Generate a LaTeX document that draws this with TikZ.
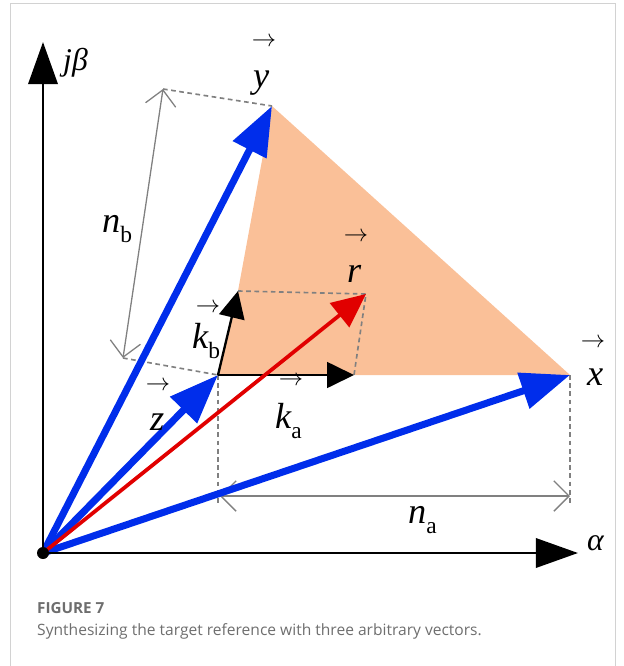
\documentclass[tikz,border=0pt]{standalone}
\usepackage{fontspec}
\setmainfont{Liberation Serif}
\newfontfamily\capfont{Open Sans}
\usetikzlibrary{arrows.meta}
\definecolor{vecblue}{RGB}{0,45,235}
\definecolor{vecred}{RGB}{225,0,0}
\definecolor{areaorange}{RGB}{250,192,152}
\definecolor{capgray}{RGB}{110,110,110}
\newcommand{\sbs}[1]{\raisebox{-9pt}{\fontsize{20}{20}\selectfont\upshape #1}}

\begin{document}
\begin{tikzpicture}[x=0.03cm, y=-0.03cm,
    axisline/.style={line width=2.4pt, -{Triangle[length=36pt,width=25pt]}},
    bluevec/.style={vecblue, line width=6pt, -{Triangle[length=42pt,width=31pt]}},
    redvec/.style={vecred, line width=3.2pt, -{Triangle[length=29pt,width=26pt]}},
    kvec/.style={black, line width=2pt, -{Triangle[length=23pt,width=22pt]}},
    dimline/.style={gray, line width=1.1pt, {Straight Barb[length=13pt,width=26pt]}-{Straight Barb[length=13pt,width=26pt]}},
    helper/.style={gray, line width=1.4pt, dashed, dash pattern=on 4pt off 3pt},
    lbl/.style={anchor=base west, inner sep=0pt, font=\fontsize{31}{31}\selectfont\itshape},
    varr/.style={inner sep=0pt, font=\fontsize{20}{20}\selectfont}
]
\useasboundingbox (0,0) rectangle (624,666);
% frame
\draw[gray!35, line width=0.8pt] (10,667) |- (615,3) -- (615,667);

% points
\coordinate (O) at (43,553);
\coordinate (AxB) at (43,42);
\coordinate (AxA) at (578,553);
\coordinate (Y) at (272,106);
\coordinate (X) at (570,375);
\coordinate (Z) at (218,375);
\coordinate (Kb) at (238,291);
\coordinate (Ka) at (354,375);
\coordinate (R) at (366,294);
\coordinate (NbT) at (163,89);
\coordinate (NbB) at (123,358);
\coordinate (NaL) at (220,496);
\coordinate (NaR) at (570,496);
\coordinate (ZD) at (218,506);
\coordinate (XD) at (570,506);

% area
\fill[areaorange] (Z) -- (Kb) -- (Y) -- (X) -- cycle;

% helper lines
\draw[helper] (NbT) -- (Y);
\draw[helper] (NbB) -- (Z);
\draw[helper] (Kb) -- (R) -- (Ka);
\draw[helper] (Z) -- (ZD);
\draw[helper] (X) -- (XD);
\draw[dimline] (NbB) -- (NbT);
\draw[dimline] (NaL) -- (NaR);

% vectors
\draw[bluevec] (O) -- (Y);
\draw[bluevec] (O) -- (X);
\draw[bluevec] (O) -- (Z);
\draw[kvec] (Z) -- (Kb);
\draw[kvec] (Z) -- (Ka);
\draw[redvec] (O) -- (R);

% axes
\draw[axisline] (O) -- (AxB);
\draw[axisline] (O) -- (AxA);
\fill (O) circle (6);

% labels
\node[lbl, font=\fontsize{27}{27}\selectfont\itshape] (beta) at (63,70) {jβ};
\node[lbl, font=\fontsize{27}{27}\selectfont\itshape] (alpha) at (587,550) {α};
\node[lbl] (ylab) at (253,87) {y};
\node[varr] (yarr) at (264,42) {$\rightarrow$};
\node[lbl] (xlab) at (587,385) {x};
\node[varr] (xarr) at (593,343) {$\rightarrow$};
\node[lbl] (rlab) at (347,282) {r};
\node[varr] (rarr) at (356,237) {$\rightarrow$};
\node[lbl] (zlab) at (150,430) {z};
\node[varr] (zarr) at (158,386) {$\rightarrow$};
\node[lbl] (kblab) at (192,348) {k\sbs{b}};
\node[varr] (kbarr) at (208,308) {$\rightarrow$};
\node[lbl] (kalab) at (275,428) {k\sbs{a}};
\node[varr] (kaarr) at (291,381) {$\rightarrow$};
\node[lbl] (nblab) at (102,232) {n\sbs{b}};
\node[lbl] (nalab) at (408,523) {n\sbs{a}};

% caption
\node[anchor=base west, inner sep=0pt, text=capgray, font=\capfont\fontsize{13}{13}\selectfont\bfseries] (fig) at (37,613) {FIGURE 7};
\node[anchor=base west, inner sep=0pt, text=capgray, font=\capfont\fontsize{13.3}{14}\selectfont] (cap) at (37,635) {Synthesizing the target reference with three arbitrary vectors.};
\end{tikzpicture}
\end{document}
